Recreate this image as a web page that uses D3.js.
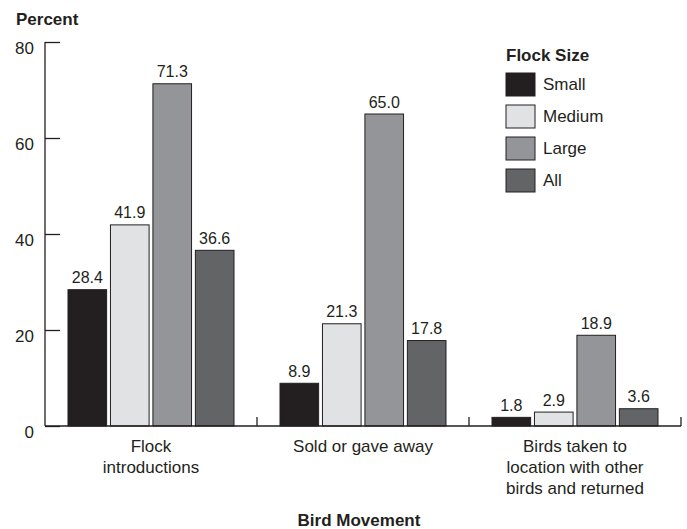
<!DOCTYPE html>
<html>
<head>
<meta charset="utf-8">
<script src="https://cdn.jsdelivr.net/npm/d3@7"></script>
<style>
  body { margin: 0; background: #fff; }
  text { font-family: "Liberation Sans", Arial, sans-serif; fill: #231f20; }
</style>
</head>
<body>
<div id="chart"></div>
<script>
var categories = [
    ["Flock", "introductions"],
    ["Sold or gave away"],
    ["Birds taken to", "location with other", "birds and returned"]
];
var keys = ["Small", "Medium", "Large", "All"];
var small = [28.4, 8.9, 1.8];
var medium = [41.9, 21.3, 2.9];
var large = [71.3, 65.0, 18.9];
var all = [36.6, 17.8, 3.6];
var yTicks = [0, 20, 40, 60, 80];

var series = { Small: small, Medium: medium, Large: large, All: all };
var data = categories.map(function(c, i) {
    return { id: i, label: c, values: keys.map(function(k) { return { key: k, value: series[k][i] }; }) };
});

var width = 687, height = 529;
var plot = { left: 45, right: 681, top: 42, bottom: 426 };
var ink = "#231f20";

var svg = d3.select("#chart").append("svg")
    .attr("width", width)
    .attr("height", height);

var x0Scale = d3.scaleBand()
    .domain(data.map(function(d) { return d.id; }))
    .range([plot.left, plot.right])
    .padding(0);

var groupW = 166;
var x1Scale = d3.scaleBand()
    .domain(keys)
    .range([(x0Scale.bandwidth() - groupW) / 2, (x0Scale.bandwidth() + groupW) / 2])
    .paddingInner(0.09);

var yScale = d3.scaleLinear()
    .domain([0, 80])
    .range([plot.bottom, plot.top]);

var zScale = d3.scaleOrdinal()
    .domain(keys)
    .range(["#231f20", "#e1e2e4", "#939598", "#636466"]);

// bars
var groups = svg.append("g")
    .selectAll("g")
    .data(data)
    .enter().append("g")
    .attr("transform", function(d) { return "translate(" + x0Scale(d.id) + ",0)"; });

groups.selectAll("rect")
    .data(function(d) { return d.values; })
    .enter().append("rect")
    .attr("x", function(d) { return x1Scale(d.key); })
    .attr("y", function(d) { return yScale(d.value); })
    .attr("width", x1Scale.bandwidth())
    .attr("height", function(d) { return yScale(0) - yScale(d.value); })
    .attr("fill", function(d) { return zScale(d.key); })
    .attr("stroke", ink)
    .attr("stroke-width", 1);

groups.selectAll("text.val")
    .data(function(d) { return d.values; })
    .enter().append("text")
    .attr("class", "val")
    .attr("x", function(d) { return x1Scale(d.key) + x1Scale.bandwidth() / 2; })
    .attr("y", function(d) { return yScale(d.value) - 6.5; })
    .attr("text-anchor", "middle")
    .attr("font-size", 16)
    .text(function(d) { return d.value.toFixed(1); });

// y axis
var yAxis = svg.append("g")
    .attr("transform", "translate(" + plot.left + ",0)")
    .call(d3.axisRight(yScale).tickValues(yTicks).tickSize(15).tickFormat(""));
yAxis.select(".domain").remove();
yAxis.selectAll("line").attr("stroke", ink).attr("stroke-width", 1.3);

svg.append("line")
    .attr("x1", plot.left).attr("x2", plot.left)
    .attr("y1", yScale(80)).attr("y2", yScale(0))
    .attr("stroke", ink).attr("stroke-width", 1.3);

svg.append("g")
    .selectAll("text")
    .data(yTicks)
    .enter().append("text")
    .attr("x", 34)
    .attr("y", function(d) { return yScale(d) + 12; })
    .attr("text-anchor", "end")
    .attr("font-size", 17)
    .text(function(d) { return d; });

// x axis
svg.append("line")
    .attr("x1", plot.left).attr("x2", plot.right)
    .attr("y1", yScale(0)).attr("y2", yScale(0))
    .attr("stroke", ink).attr("stroke-width", 1.3);

svg.append("g")
    .selectAll("line")
    .data(data)
    .enter().append("line")
    .attr("x1", function(d) { return x0Scale(d.id) + x0Scale.bandwidth(); })
    .attr("x2", function(d) { return x0Scale(d.id) + x0Scale.bandwidth(); })
    .attr("y1", yScale(0))
    .attr("y2", yScale(0) - 9)
    .attr("stroke", ink).attr("stroke-width", 1.3);

var catLabels = svg.append("g")
    .selectAll("text")
    .data(data)
    .enter().append("text")
    .attr("text-anchor", "middle")
    .attr("font-size", 17)
    .attr("y", 452);

catLabels.selectAll("tspan")
    .data(function(d) { return d.label.map(function(l) { return { l: l, x: x0Scale(d.id) + x0Scale.bandwidth() / 2 }; }); })
    .enter().append("tspan")
    .attr("x", function(d) { return d.x; })
    .attr("dy", function(d, i) { return i === 0 ? 0 : 21; })
    .text(function(d) { return d.l; });

// titles
svg.append("text")
    .attr("x", 16)
    .attr("y", 25)
    .attr("font-size", 17)
    .attr("font-weight", "bold")
    .text("Percent");

svg.append("text")
    .attr("x", 359)
    .attr("y", 526)
    .attr("text-anchor", "middle")
    .attr("font-size", 17)
    .attr("font-weight", "bold")
    .text("Bird Movement");

// legend
var legend = svg.append("g")
    .attr("transform", "translate(506,0)");

legend.append("text")
    .attr("x", 0)
    .attr("y", 61)
    .attr("font-size", 17)
    .attr("font-weight", "bold")
    .text("Flock Size");

var lgd = legend.selectAll("g")
    .data(keys)
    .enter().append("g")
    .attr("transform", function(d, i) { return "translate(0," + (73 + i * 32) + ")"; });

lgd.append("rect")
    .attr("width", 29)
    .attr("height", 23)
    .attr("fill", zScale)
    .attr("stroke", ink)
    .attr("stroke-width", 1);

lgd.append("text")
    .attr("x", 37)
    .attr("y", 11.5)
    .attr("dy", "0.35em")
    .attr("font-size", 17)
    .text(function(d) { return d; });
</script>
</body>
</html>
